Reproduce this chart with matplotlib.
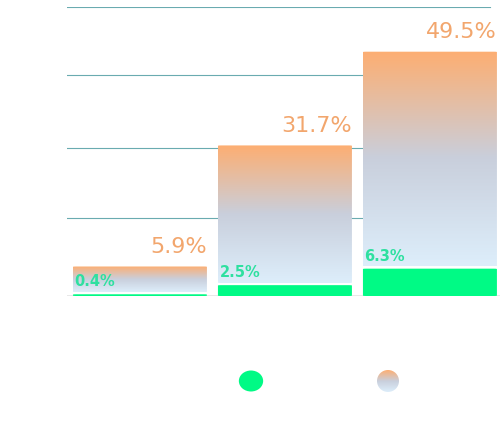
import numpy as np
import matplotlib
matplotlib.use("Agg")
import matplotlib.pyplot as plt
from matplotlib.patches import FancyBboxPatch, Circle
from matplotlib.colors import LinearSegmentedColormap

categories = ["A", "B", "C"]
green_vals = [0.4, 2.5, 6.3]
grad_vals = [5.9, 31.7, 49.5]
grid_vals = [18, 34, 51, 66.6]

W, H = 501, 433
fig = plt.figure(figsize=(W/100, H/100), dpi=100)
ax = fig.add_axes([67/W, (433-296)/H, 433/W, 289/H])
ax.set_xlim(-0.503, 433/145 - 0.503)
ax.set_ylim(0, 66.6)
ax.axis("off")

cmap = LinearSegmentedColormap.from_list("g", ["#ddeefb", "#c9cfdc", "#fdae72"])
grad = np.linspace(0, 1, 256).reshape(-1, 1)
width = 0.924
gap = 0.5
green = "#00fa85"

for v in grid_vals:
    ax.axhline(v, xmin=0, xmax=423/433, color="#6aabb0", lw=0.8, zorder=0)
ax.axhline(0, color="#e4e4e4", lw=1.2, zorder=0)

for i, (g, v) in enumerate(zip(green_vals, grad_vals)):
    x0 = i - width/2
    gb = FancyBboxPatch((x0, 0), width, g, boxstyle="round,pad=0,rounding_size=0.02",
                        fc=green, ec="none", mutation_aspect=4, zorder=2)
    ax.add_patch(gb)
    y0 = g + gap
    clip = FancyBboxPatch((x0, y0), width, v, boxstyle="round,pad=0,rounding_size=0.02",
                          fc="none", ec="none", mutation_aspect=4)
    ax.add_patch(clip)
    im = ax.imshow(grad, extent=(x0, x0 + width, y0, y0 + v), origin="lower",
                   cmap=cmap, aspect="auto", zorder=1)
    im.set_clip_path(clip)
    ax.text(x0 + width, y0 + v + 2.2, f"{v}%", ha="right", va="bottom",
            color="#f2a66d", fontsize=16)
    ax.text(x0 + 0.01, y0 + 0.6, f"{g}%", ha="left", va="bottom",
            color="#2ee0a0", fontsize=10.5, fontweight="bold")
ax.set_xlim(-0.503, 433/145 - 0.503)

fig.patches.append(Circle((251/W, (433-381)/H), 10.5/H, transform=fig.transFigure,
                          fc=green, ec="none"))
lax = fig.add_axes([377/W, (433-392)/H, 22/W, 22/H])
lax.axis("off")
circ = Circle((0.5, 0.5), 0.5, transform=lax.transAxes, fc="none", ec="none")
lax.add_patch(circ)
im2 = lax.imshow(grad, extent=(0, 1, 0, 1), origin="lower", cmap=cmap, aspect="auto")
im2.set_clip_path(circ)

fig.savefig("out.png", dpi=100)
